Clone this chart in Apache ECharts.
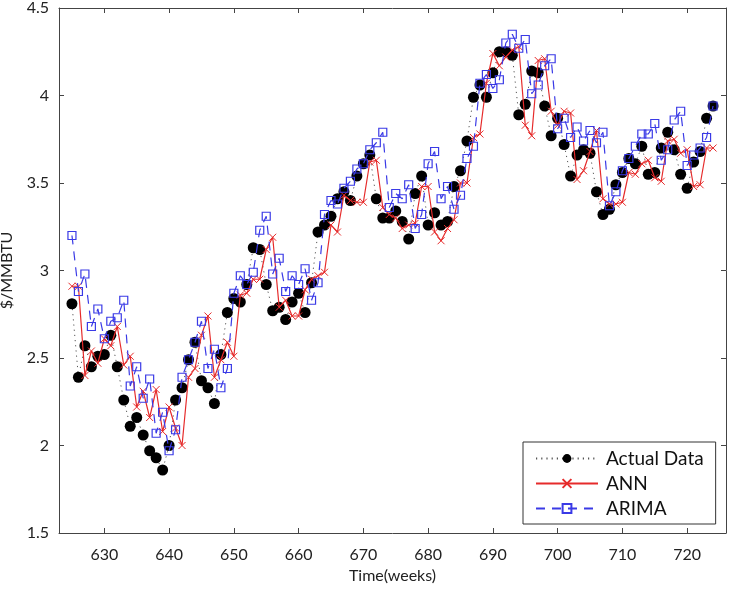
<!DOCTYPE html>
<html>
<head>
<meta charset="utf-8">
<script src="https://cdn.jsdelivr.net/npm/echarts@6/dist/echarts.min.js"></script>
<style>html,body{margin:0;padding:0;background:#fff}#c{width:746px;height:596px}</style>
</head>
<body>
<div id="c"></div>
<script>
const startWeek = 625;
const actual = [2.81,2.39,2.57,2.45,2.51,2.52,2.63,2.45,2.26,2.11,2.16,2.06,1.97,1.93,1.86,2.00,2.26,2.33,2.49,2.59,
2.37,2.33,2.24,2.52,2.76,2.84,2.82,2.92,3.13,3.12,2.92,2.77,2.79,2.72,2.82,2.87,2.76,2.93,3.22,3.26,
3.31,3.41,3.45,3.40,3.54,3.61,3.66,3.41,3.30,3.30,3.34,3.28,3.18,3.44,3.54,3.26,3.33,3.26,3.28,3.48,
3.57,3.74,3.99,4.06,3.99,4.13,4.25,4.25,4.23,3.89,3.95,4.14,4.13,3.94,3.77,3.87,3.72,3.54,3.66,3.69,
3.67,3.45,3.32,3.35,3.49,3.56,3.64,3.61,3.71,3.55,3.56,3.70,3.79,3.69,3.55,3.47,3.62,3.68,3.87,3.94];
const ann = [2.91,2.91,2.40,2.54,2.47,2.61,2.57,2.68,2.46,2.51,2.22,2.31,2.16,2.32,2.08,2.22,2.10,2.00,2.39,2.44,
2.63,2.74,2.39,2.49,2.59,2.51,2.86,2.87,2.95,2.95,3.12,3.19,2.79,2.83,2.74,2.74,2.89,2.95,2.97,2.99,
3.26,3.22,3.43,3.40,3.39,3.39,3.62,3.63,3.36,3.32,3.30,3.24,3.26,3.27,3.48,3.48,3.22,3.17,3.24,3.29,
3.50,3.50,3.76,3.78,4.07,4.24,4.17,4.22,4.26,4.28,3.83,3.77,4.20,4.21,3.91,3.83,3.91,3.90,3.52,3.57,
3.68,3.80,3.41,3.38,3.38,3.39,3.56,3.55,3.61,3.63,3.53,3.51,3.74,3.75,3.67,3.69,3.48,3.49,3.70,3.70];
const arima = [3.20,2.88,2.98,2.68,2.78,2.61,2.71,2.73,2.83,2.34,2.45,2.27,2.38,2.07,2.19,1.97,2.09,2.39,2.49,2.59,
2.71,2.44,2.55,2.33,2.44,2.87,2.97,2.92,2.99,3.23,3.31,2.98,3.07,2.88,2.97,2.92,3.01,2.83,2.93,3.32,
3.40,3.38,3.47,3.51,3.58,3.61,3.69,3.73,3.79,3.36,3.44,3.41,3.49,3.24,3.32,3.61,3.68,3.41,3.48,3.35,
3.43,3.64,3.71,4.07,4.12,4.04,4.09,4.30,4.35,4.27,4.32,4.01,4.06,4.17,4.21,3.81,3.87,3.76,3.82,3.74,
3.80,3.73,3.79,3.37,3.45,3.57,3.64,3.71,3.78,3.78,3.84,3.63,3.69,3.86,3.91,3.60,3.66,3.70,3.76,3.94];
const xTicks = [630,640,650,660,670,680,690,700,710,720];
const yTicks = [1.5,2,2.5,3,3.5,4,4.5];

const toPairs = arr => arr.map((v,i) => [startWeek + i, v]);
const FONT = 'Lato';
const axisColor = '#444';

const chart = echarts.init(document.getElementById('c'));
const xBase = {type:'value', min:623, max:726, splitLine:{show:false},
  axisLine:{show:true, onZero:false, lineStyle:{color:axisColor, width:1}},
  axisTick:{show:true, inside:true, length:5, customValues:xTicks, lineStyle:{color:axisColor}}};
const yBase = {type:'value', min:1.5, max:4.5, splitLine:{show:false},
  axisLine:{show:true, onZero:false, lineStyle:{color:axisColor, width:1}},
  axisTick:{show:true, inside:true, length:5, customValues:yTicks, lineStyle:{color:axisColor}}};

chart.setOption({
  animation:false,
  backgroundColor:'#fff',
  textStyle:{fontFamily:FONT},
  grid:{left:59, right:20, top:8, bottom:63, containLabel:false, outerBoundsMode:'none'},
  xAxis:[
    Object.assign({}, xBase, {position:'bottom',
      axisLabel:{show:true, customValues:xTicks, margin:14, fontSize:16, color:'#222', fontFamily:FONT},
      name:'Time(weeks)', nameLocation:'middle', nameGap:34,
      nameTextStyle:{fontSize:16, color:'#222', fontFamily:FONT}}),
    Object.assign({}, xBase, {position:'top', axisLabel:{show:false}})
  ],
  yAxis:[
    Object.assign({}, yBase, {position:'left',
      axisLabel:{show:true, customValues:yTicks, margin:10, fontSize:16, color:'#222', fontFamily:FONT,
        formatter: v => String(v)},
      name:'$/MMBTU', nameLocation:'middle', nameGap:44, nameRotate:90,
      nameTextStyle:{fontSize:16, color:'#222', fontFamily:FONT}}),
    Object.assign({}, yBase, {position:'right', axisLabel:{show:false}})
  ],
  legend:{
    show:true, orient:'vertical', left:523, top:442, width:175,
    padding:[7,12,6,12], itemGap:6, itemWidth:62, itemHeight:11,
    borderColor:'#333', borderWidth:1, backgroundColor:'#fff',
    textStyle:{fontSize:19, color:'#111', fontFamily:FONT, padding:[0,0,0,3]},
    data:['Actual Data','ANN','ARIMA']
  },
  series:[
    {name:'Actual Data', type:'line', data:toPairs(actual), symbol:'circle', symbolSize:11,
      showSymbol:true, itemStyle:{color:'#000'},
      lineStyle:{color:'#555', width:1, type:[1.2,4]}, z:2},
    {name:'ANN', type:'line', data:toPairs(ann), symbol:'path://M0,0L10,10M10,0L0,10', symbolSize:7,
      showSymbol:true, itemStyle:{color:'none', borderColor:'#e62b2b', borderWidth:1},
      lineStyle:{color:'#e62b2b', width:1.2}, z:3},
    {name:'ARIMA', type:'line', data:toPairs(arima), symbol:'rect', symbolSize:8,
      showSymbol:true, itemStyle:{color:'rgba(255,255,255,0)', borderColor:'#3a3ae6', borderWidth:1.2},
      lineStyle:{color:'#3a3ae6', width:1.2, type:[9,7]}, z:4}
  ]
});
</script>
</body>
</html>
